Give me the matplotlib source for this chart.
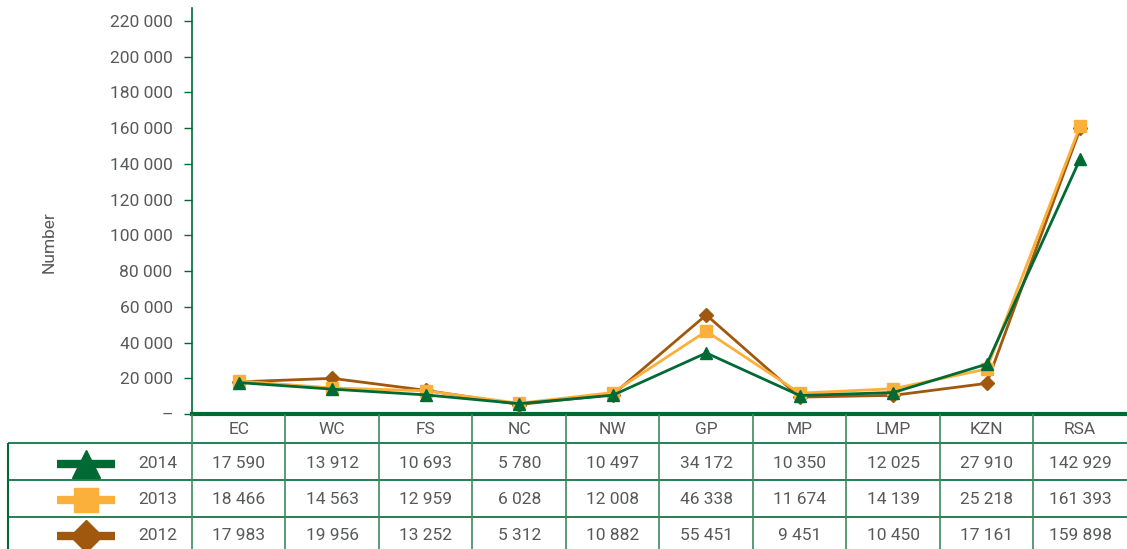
import matplotlib.pyplot as plt

plt.rcParams['font.family'] = ['Roboto', 'DejaVu Sans']

# data
regions = ["EC", "WC", "FS", "NC", "NW", "GP", "MP", "LMP", "KZN", "RSA"]
years = ["2014", "2013", "2012"]
v2014 = [17590, 13912, 10693, 5780, 10497, 34172, 10350, 12025, 27910, 142929]
v2013 = [18466, 14563, 12959, 6028, 12008, 46338, 11674, 14139, 25218, 161393]
v2012 = [17983, 19956, 13252, 5312, 10882, 55451, 9451, 10450, 17161, 159898]
yticks = [0, 20000, 40000, 60000, 80000, 100000, 120000, 140000, 160000, 180000, 200000, 220000]

green = "#006a35"
orange = "#fbb03b"
brown = "#a0570e"
grey = "#58595b"
series = [(v2014, green, "^", 9), (v2013, orange, "s", 8), (v2012, brown, "D", 7)]
fs = 12.5

def fmt(v):
    return f"{v:,}".replace(",", " ")

W, H = 1127, 549
fig = plt.figure(figsize=(W / 100, H / 100), dpi=100)

# line chart (2012 drawn first so 2014 sits on top)
ax = fig.add_axes([192 / W, (H - 414) / H, (W - 192) / W, 406 / H])
x = list(range(len(regions)))
for z, (vals, col, mk, ms) in enumerate(series):
    ax.plot(x, vals, color=col, lw=2, marker=mk, ms=ms, zorder=5 - z)

ax.set_xlim(-0.5, len(regions) - 0.5)
ax.set_ylim(0, 227300)
ax.set_yticks(yticks)
ax.set_yticklabels(["–"] + [fmt(t) for t in yticks[1:]], fontsize=fs, color=grey)
ax.set_xticks([])
ax.tick_params(axis="y", length=6, width=1, color=green, pad=8)
for s in ["top", "right"]:
    ax.spines[s].set_visible(False)
ax.spines["left"].set_color(green)
ax.spines["left"].set_linewidth(1.2)
ax.spines["bottom"].set_color(green)
ax.spines["bottom"].set_linewidth(3)
ax.set_ylabel("Number", fontsize=fs, color=grey)
ax.yaxis.set_label_coords(-(192 - 57) / (W - 192), (414 - 242) / 406)

# data table below the chart, pixel rows measured downwards from the x axis
unit = (W - 192) / len(regions)
x0 = -0.5 - (192 - 8) / unit
tab = fig.add_axes([8 / W, 0, (W - 8) / W, 135 / H])
tab.set_xlim(x0, len(regions) - 0.5)
tab.set_ylim(135, 0)
tab.axis("off")

tab.hlines([29, 66, 103], x0, len(regions) - 0.5, color=green, lw=1.2, clip_on=False)
tab.vlines([x0], 29, 135, color=green, lw=1.5, clip_on=False)
tab.vlines([i - 0.5 for i in range(len(regions))], 0, 135, color="#3f8a5f", lw=1.2, clip_on=False)

for i, r in enumerate(regions):
    tab.text(i, 15, r, ha="center", va="center", fontsize=fs, color=grey)

row_y = [50, 86, 122]
legend_ms = [20, 17, 16]
for (vals, col, mk, ms), yr, ry, lms in zip(series, years, row_y, legend_ms):
    lx = [x0 + (57 - 8) / unit, x0 + (115 - 8) / unit]
    tab.plot(lx, [ry, ry], color=col, lw=6, solid_capstyle="butt", clip_on=False)
    tab.plot([x0 + (86 - 8) / unit], [ry], color=col, marker=mk, ms=lms, clip_on=False)
    tab.text(x0 + (177 - 8) / unit, ry, yr, ha="right", va="center", fontsize=fs, color=grey)
    for i, v in enumerate(vals):
        tab.text(i, ry, fmt(v), ha="center", va="center", fontsize=fs, color=grey)

fig.savefig("out.png", dpi=100)
